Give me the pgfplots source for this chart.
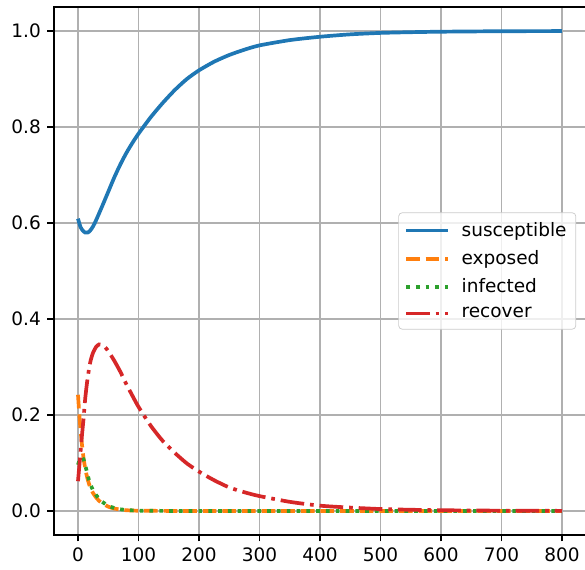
\documentclass[border=0pt]{standalone}
\usepackage{fontspec}
\setmainfont{DejaVu Sans}
\usepackage{pgfplots}
\pgfplotsset{compat=1.18}
\definecolor{tabblue}{HTML}{1F77B4}
\definecolor{taborange}{HTML}{FF7F0E}
\definecolor{tabgreen}{HTML}{2CA02C}
\definecolor{tabred}{HTML}{D62728}
\definecolor{gridgray}{HTML}{B0B0B0}
\begin{document}
\begin{tikzpicture}
\begin{axis}[
  name=ax,
  scale only axis,
  width=287.8pt, height=285.4pt,
  xmin=-40, xmax=840, ymin=-0.05, ymax=1.05,
  xtick={0,100,...,800},
  ytick={0,0.2,0.4,0.6,0.8,1.0},
  yticklabel style={/pgf/number format/.cd,fixed,fixed zerofill,precision=1},
  /pgf/number format/assume math mode=true,
  tick label style={font=\fontsize{10}{12}\selectfont},
  tick align=outside,
  major tick length=3.5pt,
  every tick/.style={black, line width=0.8pt},
  xtick pos=bottom, ytick pos=left,
  axis line style={line width=0.8pt},
  grid=major,
  major grid style={gridgray, line width=0.8pt},
  scaled y ticks=false,
  legend style={at={(1,0.5)}, anchor=east, xshift=-5.4pt,
    draw=black!20, rounded corners=2pt, fill=white, fill opacity=0.8, text opacity=1,
    font=\fontsize{10}{12}\selectfont, row sep=2.2pt, inner xsep=3pt, inner ysep=3pt,
    /tikz/every odd column/.append style={column sep=4.3pt}},
  legend cell align=left,
  legend image code/.code={\draw[#1] (0cm,0cm) -- (0.8cm,0cm);},
  every axis plot/.append style={line width=2pt},
]
\addplot[tabblue, smooth, tension=0.4] coordinates {
(0,0.609) (4,0.592) (8,0.584) (12,0.580) (16,0.580) (20,0.584) (25,0.593) (30,0.606)
(40,0.635) (50,0.665) (60,0.695) (70,0.722) (80,0.746) (90,0.767) (100,0.786)
(120,0.820) (140,0.850) (160,0.877) (180,0.900) (200,0.918) (225,0.936)
(250,0.950) (275,0.961) (300,0.970) (350,0.981) (400,0.988) (450,0.993)
(500,0.996) (550,0.9975) (600,0.9985) (700,0.9995) (800,0.9998)};
\addlegendentry{susceptible}
\addplot[taborange, line cap=butt, dash pattern=on 7.4pt off 3.2pt, smooth, tension=0.4] coordinates {
(0,0.242) (2,0.205) (4,0.172) (6,0.145) (8,0.122) (10,0.103) (13,0.082) (16,0.066)
(20,0.050) (25,0.037) (30,0.028) (35,0.021) (40,0.016) (50,0.009) (60,0.005)
(70,0.003) (80,0.0015) (100,0.0005) (150,0.0001) (200,0) (300,0) (400,0) (500,0)
(600,0) (700,0) (800,0)};
\addlegendentry{exposed}
\addplot[tabgreen, line cap=butt, dash pattern=on 2pt off 3.3pt, smooth, tension=0.4] coordinates {
(0,0.096) (3,0.107) (6,0.112) (9,0.108) (12,0.095) (15,0.080) (18,0.065) (21,0.054)
(25,0.043) (30,0.033) (35,0.025) (40,0.019) (50,0.011) (60,0.006) (70,0.0035)
(80,0.002) (100,0.0007) (150,0.0001) (200,0) (300,0) (400,0) (500,0) (600,0)
(700,0) (800,0)};
\addlegendentry{infected}
\addplot[tabred, line cap=butt, dash pattern=on 12.8pt off 3.2pt on 2pt off 3.2pt, smooth, tension=0.4] coordinates {
(0,0.062) (3,0.105) (6,0.150) (9,0.190) (12,0.235) (15,0.268) (18,0.294) (21,0.314)
(25,0.330) (30,0.342) (35,0.347) (40,0.346) (45,0.341) (50,0.333) (60,0.313)
(70,0.290) (80,0.264) (90,0.240) (100,0.217) (120,0.178) (140,0.146) (160,0.121)
(180,0.099) (200,0.082) (225,0.064) (250,0.049) (275,0.039) (300,0.031)
(350,0.019) (400,0.011) (450,0.007) (500,0.004) (550,0.0025) (600,0.0015)
(700,0.0006) (800,0.0002)};
\addlegendentry{recover}
\end{axis}
\pgfresetboundingbox
\path[use as bounding box] ([shift={(-29.08pt,-18.92pt)}]ax.south west) rectangle ([shift={(-0.65pt,3.78pt)}]ax.north east);
\end{tikzpicture}
\end{document}
